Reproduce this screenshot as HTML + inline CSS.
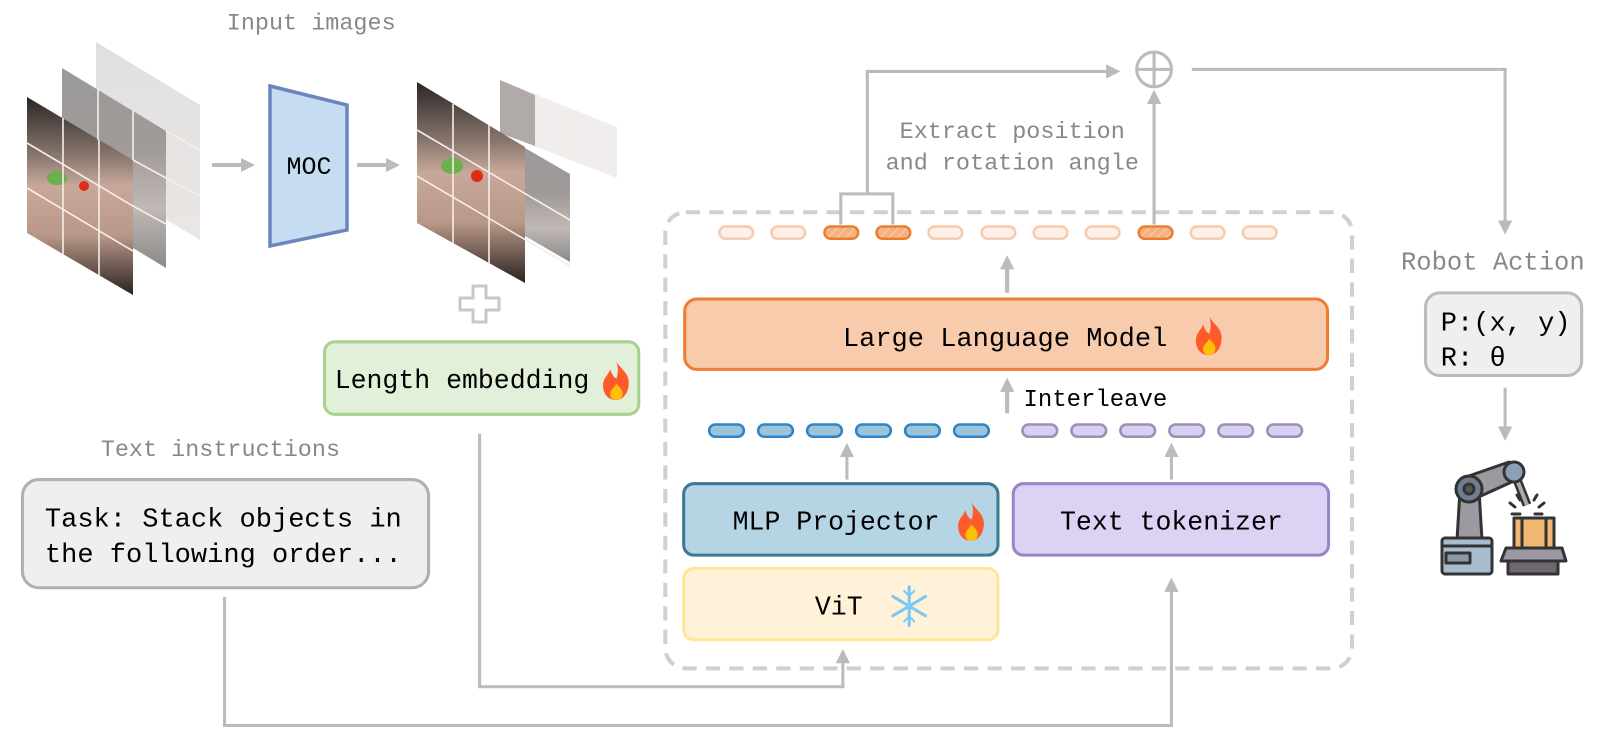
<!DOCTYPE html>
<html><head><meta charset="utf-8"><style>
html,body{margin:0;padding:0;background:#fff;}
svg{display:block;}
text{font-family:"Liberation Mono","DejaVu Sans Mono",monospace;}
</style></head><body>
<svg width="1600" height="743" viewBox="0 0 1600 743" xmlns="http://www.w3.org/2000/svg">
<defs>
<linearGradient id="ph" x1="0" y1="0" x2="0" y2="1">
<stop offset="0" stop-color="#2a2624"/><stop offset="0.3" stop-color="#8a7870"/><stop offset="0.45" stop-color="#c8a89a"/><stop offset="0.7" stop-color="#b89888"/><stop offset="1" stop-color="#2a2220"/></linearGradient>
<linearGradient id="ph2" x1="0" y1="0" x2="0" y2="1">
<stop offset="0" stop-color="#9a9a9a"/><stop offset="0.4" stop-color="#a09a98"/><stop offset="0.7" stop-color="#c0b8b4"/><stop offset="1" stop-color="#8a8a8a"/></linearGradient>
<linearGradient id="ph3" x1="0" y1="0" x2="0" y2="1">
<stop offset="0" stop-color="#e0e0e0"/><stop offset="1" stop-color="#ebe6e4"/></linearGradient>
<pattern id="hatch" width="6" height="6" patternUnits="userSpaceOnUse" patternTransform="rotate(45)">
<rect width="6" height="6" fill="#f4b183"/><line x1="0" y1="0" x2="0" y2="6" stroke="#f8d0b4" stroke-width="2"/></pattern>
<marker id="ar" markerWidth="10" markerHeight="10" refX="5" refY="5" orient="auto" markerUnits="userSpaceOnUse"><path d="M0,0 L10,5 L0,10 z" fill="#bbb"/></marker>
<marker id="arb" markerWidth="14" markerHeight="14" refX="6" refY="7" orient="auto" markerUnits="userSpaceOnUse"><path d="M0,0 L14,7 L0,14 z" fill="#bbb"/></marker>
<g id="fire"><path d="M0,-20 C4,-12 14,-8 12,4 C11,14 4,18 0,18 C-8,18 -13,12 -13,4 C-13,-4 -8,-6 -6,-12 C-4,-6 -2,-4 0,-3 C2,-8 2,-14 0,-20z" fill="#ff5a2a"/><path d="M0,2 C4,6 7,9 6,13 C5,17 2,18 0,18 C-3,18 -6,16 -6,12 C-6,8 -2,6 0,2z" fill="#ffc107"/></g>
</defs>

<!-- image stacks in true coords -->
<polygon points="96,42 200,105 200,240 96,177" fill="url(#ph3)"/>
<polygon points="62,68 166,131 166,268 62,205" fill="url(#ph2)"/>
<polygon points="27,97 133,160 133,295 27,233" fill="url(#ph)"/>
<ellipse cx="57" cy="178" rx="10" ry="7" fill="#6ab04c"/><circle cx="84" cy="186" r="5" fill="#e02a1a"/>
<g stroke="#f5eee8" stroke-width="1.6">
<line x1="63" y1="118" x2="63" y2="255"/><line x1="99" y1="140" x2="99" y2="276"/>
<line x1="27" y1="143" x2="133" y2="206"/><line x1="27" y1="188" x2="133" y2="251"/>
<line x1="98" y1="88" x2="98" y2="140"/><line x1="133" y1="110" x2="133" y2="160"/>
<line x1="133" y1="160" x2="166" y2="178"/><line x1="133" y1="206" x2="166" y2="224"/>
<line x1="166" y1="131" x2="200" y2="150"/><line x1="166" y1="178" x2="200" y2="196"/>
</g>
<line x1="212" y1="165" x2="247" y2="165" stroke="#bbb" stroke-width="4" marker-end="url(#arb)"/>
<polygon points="270,86 347,105 347,230 270,246" fill="#c5dcf3" stroke="#6a86bc" stroke-width="3.5"/>
<text x="309" y="174" font-size="25" text-anchor="middle" fill="#000">MOC</text>
<line x1="357" y1="165" x2="392" y2="165" stroke="#bbb" stroke-width="4" marker-end="url(#arb)"/>

<polygon points="500,80 617,127 617,178 500,133" fill="#efe9e8" opacity="0.8"/>
<polygon points="500,80 535,95 535,146 500,133" fill="#b0aaa8"/>
<polygon points="525,148 570,174 570,262 525,236" fill="url(#ph2)"/>
<polygon points="417,82 525,147 525,283 417,223" fill="url(#ph)"/>
<ellipse cx="452" cy="166" rx="11" ry="8" fill="#6ab04c"/><circle cx="477" cy="176" r="6" fill="#e02a1a"/>
<g stroke="#f5eee8" stroke-width="1.6">
<line x1="453" y1="104" x2="453" y2="244"/><line x1="489" y1="125" x2="489" y2="264"/>
<line x1="417" y1="130" x2="570" y2="220"/><line x1="417" y1="176" x2="570" y2="266"/>
<line x1="538" y1="95" x2="538" y2="140"/><line x1="575" y1="110" x2="575" y2="160"/>
</g>
<path d="M473,286 h13 v12 h13 v12 h-13 v12 h-13 v-12 h-13 v-12 h13 z" fill="none" stroke="#c8c8c8" stroke-width="3"/>

<!-- robot icon true coords -->
<g stroke="#333" stroke-width="3" stroke-linejoin="round">
<line x1="1514" y1="472" x2="1527" y2="505" stroke-width="9"/>
<line x1="1514" y1="472" x2="1527" y2="505" stroke="#aaa" stroke-width="4"/>
<polygon points="1460,490 1479,490 1482,540 1457,540" fill="#9a9aa0"/>
<polygon points="1463,478 1509,462 1516,480 1472,500" fill="#9a9aa0"/>
<circle cx="1469" cy="489" r="13" fill="#6e7e92"/>
<circle cx="1469" cy="489" r="5" fill="#555"/>
<circle cx="1514" cy="472" r="10" fill="#8ca0b8"/>
<rect x="1442" y="538" width="50" height="36" rx="3" fill="#a8bccf"/>
<line x1="1442" y1="546" x2="1492" y2="546"/>
<rect x="1446" y="553" width="24" height="10" fill="#8a98a8"/>
<rect x="1514" y="518" width="40" height="30" fill="#f0b870"/>
<line x1="1522" y1="518" x2="1522" y2="548"/><line x1="1546" y1="518" x2="1546" y2="548"/>
<path d="M1506,548 H1562 L1566,561 H1501 z" fill="#9a98a0"/>
<rect x="1508" y="561" width="50" height="13" fill="#6e6670"/>
<g stroke-width="3" stroke-linecap="round"><line x1="1515" y1="507" x2="1510" y2="503"/><line x1="1539" y1="507" x2="1544" y2="503"/><line x1="1520" y1="500" x2="1517" y2="495"/><line x1="1534" y1="500" x2="1537" y2="495"/><line x1="1512" y1="514" x2="1520" y2="514"/><line x1="1535" y1="514" x2="1542" y2="514"/></g>
</g>

<g transform="scale(1.0204)">
<text x="305" y="29" font-size="23" fill="#888" text-anchor="middle">Input images</text>

<rect x="318" y="335" width="308" height="71" rx="10" fill="#e2efd9" stroke="#a9d18e" stroke-width="3"/>
<text x="328" y="380" font-size="26" fill="#000">Length embedding</text>
<use href="#fire" x="604" y="374"/>

<text x="216" y="447" font-size="23" fill="#888" text-anchor="middle">Text instructions</text>
<rect x="22" y="470" width="398" height="106" rx="16" fill="#efefef" stroke="#b0b0b0" stroke-width="3"/>
<text x="44" y="516" font-size="26.5" fill="#000">Task: Stack objects in</text>
<text x="44" y="551" font-size="26.5" fill="#000">the following order...</text>

<rect x="652" y="208" width="673" height="447" rx="20" fill="none" stroke="#d0d0d0" stroke-width="4" stroke-dasharray="14,9"/>

<g stroke-width="2.5">
<rect x="705" y="222" width="33" height="12" rx="6" fill="#fdf0ea" stroke="#f8cbad"/>
<rect x="756" y="222" width="33" height="12" rx="6" fill="#fdf0ea" stroke="#f8cbad"/>
<rect x="808" y="222" width="33" height="12" rx="6" fill="url(#hatch)" stroke="#ed7d31"/>
<rect x="859" y="222" width="33" height="12" rx="6" fill="url(#hatch)" stroke="#ed7d31"/>
<rect x="910" y="222" width="33" height="12" rx="6" fill="#fdf0ea" stroke="#f8cbad"/>
<rect x="962" y="222" width="33" height="12" rx="6" fill="#fdf0ea" stroke="#f8cbad"/>
<rect x="1013" y="222" width="33" height="12" rx="6" fill="#fdf0ea" stroke="#f8cbad"/>
<rect x="1064" y="222" width="33" height="12" rx="6" fill="#fdf0ea" stroke="#f8cbad"/>
<rect x="1116" y="222" width="33" height="12" rx="6" fill="url(#hatch)" stroke="#ed7d31"/>
<rect x="1167" y="222" width="33" height="12" rx="6" fill="#fdf0ea" stroke="#f8cbad"/>
<rect x="1218" y="222" width="33" height="12" rx="6" fill="#fdf0ea" stroke="#f8cbad"/>
</g>

<path d="M824,220 V190 H875 V220 M850,190 V70 H1090" fill="none" stroke="#bbb" stroke-width="3" marker-end="url(#arb)"/>
<line x1="1131" y1="220" x2="1131" y2="96" stroke="#bbb" stroke-width="3" marker-end="url(#arb)"/>
<circle cx="1131" cy="68" r="17" fill="none" stroke="#bbb" stroke-width="3"/>
<line x1="1114" y1="68" x2="1148" y2="68" stroke="#bbb" stroke-width="3"/>
<line x1="1131" y1="51" x2="1131" y2="85" stroke="#bbb" stroke-width="3"/>
<path d="M1168,68 H1475 V222" fill="none" stroke="#bbb" stroke-width="3" marker-end="url(#arb)"/>
<text x="992" y="135" font-size="23" fill="#888" text-anchor="middle">Extract position</text>
<text x="992" y="166" font-size="23" fill="#888" text-anchor="middle">and rotation angle</text>

<line x1="987" y1="287" x2="987" y2="258" stroke="#bbb" stroke-width="4" marker-end="url(#arb)"/>

<rect x="671" y="293" width="630" height="69" rx="12" fill="#f8cbad" stroke="#ed7d31" stroke-width="3"/>
<text x="985" y="339" font-size="26.5" fill="#000" text-anchor="middle">Large Language Model</text>
<use href="#fire" x="1185" y="330"/>

<line x1="987" y1="405" x2="987" y2="378" stroke="#bbb" stroke-width="4" marker-end="url(#arb)"/>
<text x="1003" y="398" font-size="23.5" fill="#000">Interleave</text>

<g stroke-width="2.5">
<rect x="695" y="416" width="34" height="12" rx="6" fill="#9dc3d8" stroke="#2e86c8"/>
<rect x="743" y="416" width="34" height="12" rx="6" fill="#9dc3d8" stroke="#2e86c8"/>
<rect x="791" y="416" width="34" height="12" rx="6" fill="#9dc3d8" stroke="#2e86c8"/>
<rect x="839" y="416" width="34" height="12" rx="6" fill="#9dc3d8" stroke="#2e86c8"/>
<rect x="887" y="416" width="34" height="12" rx="6" fill="#9dc3d8" stroke="#2e86c8"/>
<rect x="935" y="416" width="34" height="12" rx="6" fill="#9dc3d8" stroke="#2e86c8"/>
<rect x="1002" y="416" width="34" height="12" rx="6" fill="#d9cff0" stroke="#9b8fb5"/>
<rect x="1050" y="416" width="34" height="12" rx="6" fill="#d9cff0" stroke="#9b8fb5"/>
<rect x="1098" y="416" width="34" height="12" rx="6" fill="#d9cff0" stroke="#9b8fb5"/>
<rect x="1146" y="416" width="34" height="12" rx="6" fill="#d9cff0" stroke="#9b8fb5"/>
<rect x="1194" y="416" width="34" height="12" rx="6" fill="#d9cff0" stroke="#9b8fb5"/>
<rect x="1242" y="416" width="34" height="12" rx="6" fill="#d9cff0" stroke="#9b8fb5"/>
</g>
<line x1="830" y1="470" x2="830" y2="442" stroke="#bbb" stroke-width="3" marker-end="url(#arb)"/>
<line x1="1148" y1="470" x2="1148" y2="442" stroke="#bbb" stroke-width="3" marker-end="url(#arb)"/>

<rect x="670" y="474" width="308" height="70" rx="10" fill="#b6d5e4" stroke="#3d7895" stroke-width="3"/>
<text x="718" y="519" font-size="26" fill="#000">MLP Projector</text>
<use href="#fire" x="952" y="512"/>
<rect x="993" y="474" width="309" height="70" rx="10" fill="#ddd2f3" stroke="#9b85c6" stroke-width="3"/>
<text x="1148" y="519" font-size="26" fill="#000" text-anchor="middle">Text tokenizer</text>
<rect x="670" y="557" width="308" height="70" rx="10" fill="#fff2d9" stroke="#ffe699" stroke-width="3"/>
<text x="822" y="602" font-size="26" fill="#000" text-anchor="middle">ViT</text>
<g transform="translate(891,594)" stroke="#7cc8f4" stroke-width="3" stroke-linecap="round">
<line x1="0" y1="-19" x2="0" y2="19"/><line x1="-16" y1="-9.5" x2="16" y2="9.5"/><line x1="-16" y1="9.5" x2="16" y2="-9.5"/>
<path d="M-5,-15 L0,-10 L5,-15 M-5,15 L0,10 L5,15" fill="none" stroke-width="2"/>
</g>

<path d="M470,425 V673 H826 V644" fill="none" stroke="#bbb" stroke-width="3" marker-end="url(#arb)"/>
<path d="M220,585 V711 H1148 V574" fill="none" stroke="#bbb" stroke-width="3" marker-end="url(#arb)"/>

<text x="1373" y="264" font-size="25" fill="#888">Robot Action</text>
<rect x="1397" y="287" width="153" height="81" rx="14" fill="#efefef" stroke="#bbb" stroke-width="3"/>
<text x="1412" y="324" font-size="26.5" fill="#000">P:(x, y)</text>
<text x="1412" y="358" font-size="26.5" fill="#000">R: θ</text>
<line x1="1475" y1="380" x2="1475" y2="424" stroke="#bbb" stroke-width="3" marker-end="url(#arb)"/>
</g>
</svg>
</body></html>
